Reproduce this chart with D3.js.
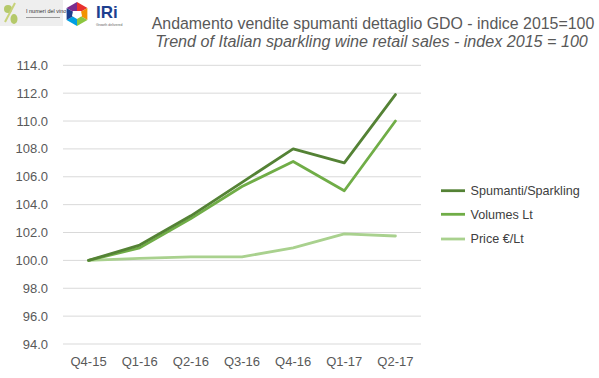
<!DOCTYPE html>
<html><head><meta charset="utf-8">
<script src="https://cdn.jsdelivr.net/npm/d3@7"></script>
<style>body{margin:0;background:#fff}svg{display:block}</style>
</head><body>
<script>
const categories = ["Q4-15","Q1-16","Q2-16","Q3-16","Q4-16","Q1-17","Q2-17"];
const spumanti = [100.0, 101.1, 103.2, 105.6, 108.0, 107.0, 111.9];
const volumes  = [100.0, 100.9, 103.0, 105.3, 107.1, 105.0, 110.0];
const price    = [100.0, 100.15, 100.25, 100.25, 100.9, 101.9, 101.75];
const seriesNames = ["Spumanti/Sparkling","Volumes Lt","Price €/Lt"];
const yTicks = [94,96,98,100,102,104,106,108,110,112,114];
const titleIt = "Andamento vendite spumanti dettaglio GDO - indice 2015=100";
const titleEn = "Trend of Italian sparkling wine retail sales - index 2015 = 100";

const W = 599, H = 378;
const colors = ["#548235","#70ad47","#a9d18e"];
const svg = d3.select("body").append("svg").attr("width",W).attr("height",H);
const font = "'Liberation Sans', Arial, sans-serif";

const x = d3.scaleBand().domain(categories).range([63, 421]);
const y = d3.scaleLinear().domain([94,114]).range([344, 65.3]);

// gridlines
svg.append("g").selectAll("line").data(yTicks).join("line")
  .attr("x1",63).attr("x2",421).attr("y1",d=>y(d)).attr("y2",d=>y(d))
  .attr("stroke","#d9d9d9").attr("stroke-width",1);

// y labels
svg.append("g").selectAll("text").data(yTicks).join("text")
  .attr("x",48).attr("y",d=>y(d)).attr("dy","0.35em").attr("text-anchor","end")
  .attr("font-family",font).attr("font-size",13).attr("fill","#595959")
  .text(d=>d.toFixed(1));

// x labels
svg.append("g").selectAll("text").data(categories).join("text")
  .attr("x",d=>x(d)+x.bandwidth()/2).attr("y",361).attr("dy","0.35em").attr("text-anchor","middle")
  .attr("font-family",font).attr("font-size",13).attr("fill","#595959")
  .text(d=>d);

const data = [spumanti, volumes, price];
const line = d3.line().x((d,i)=>x(categories[i])+x.bandwidth()/2).y(d=>y(d));
[2,1,0].forEach(k=>{
  svg.append("path").datum(data[k]).attr("d",line).attr("fill","none")
    .attr("stroke",colors[k]).attr("stroke-width",2.8).attr("stroke-linejoin","round").attr("stroke-linecap","round");
});

// legend
const legY = [190.7, 214.3, 239];
seriesNames.forEach((n,k)=>{
  svg.append("line").attr("x1",441).attr("x2",465).attr("y1",legY[k]).attr("y2",legY[k])
    .attr("stroke",colors[k]).attr("stroke-width",2.8);
  svg.append("text").attr("x",470.5).attr("y",legY[k]).attr("dy","0.35em")
    .attr("font-family",font).attr("font-size",12.6).attr("fill","#404040").text(n);
});

// titles
function fitText(sel, target){
  const w = sel.node().getComputedTextLength();
  const fs = parseFloat(sel.attr("font-size"));
  sel.attr("font-size", fs*target/w);
}
const t1 = svg.append("text").attr("x",373).attr("y",29).attr("text-anchor","middle")
  .attr("font-family",font).attr("font-size",16).attr("fill","#595959").text(titleIt);
fitText(t1, 443);
const t2 = svg.append("text").attr("x",371.5).attr("y",47).attr("text-anchor","middle")
  .attr("font-family",font).attr("font-size",16).attr("font-style","italic").attr("fill","#595959").text(titleEn);
fitText(t2, 433);

// logos (approximation)
const lg = svg.append("g");
lg.append("rect").attr("x",0).attr("y",0).attr("width",63).attr("height",26).attr("fill","#eeeeee");
lg.append("circle").attr("cx",8).attr("cy",9).attr("r",4).attr("fill","#b5c96a");
lg.append("line").attr("x1",5).attr("y1",22).attr("x2",15).attr("y2",3).attr("stroke","#c8d27a").attr("stroke-width",2);
lg.append("ellipse").attr("cx",14).attr("cy",19).attr("rx",3.5).attr("ry",5).attr("fill","#b5c96a");
lg.append("text").attr("x",26).attr("y",13).attr("font-family",font).attr("font-size",5.5).attr("fill","#333").text("I numeri del vino");
lg.append("rect").attr("x",26).attr("y",17).attr("width",34).attr("height",1).attr("fill","#999");
// IRi hexagon
const hx = 77, hy = 14, hr = 12;
const hexColors = ["#e8312f","#f39200","#8cc63f","#009fe3","#1d3f8f","#7b2d8e"];
for(let i=0;i<6;i++){
  const a0 = (Math.PI/3)*i - Math.PI/2, a1 = a0 + Math.PI/3;
  lg.append("path").attr("d",`M${hx},${hy} L${hx+hr*Math.cos(a0)},${hy+hr*Math.sin(a0)} L${hx+hr*Math.cos(a1)},${hy+hr*Math.sin(a1)} Z`)
    .attr("fill",hexColors[i]);
}
lg.append("path").attr("d",`M${hx-4},${hy-3} L${hx+4},${hy-3} L${hx+5},${hy+2} L${hx},${hy+5} L${hx-5},${hy+2} Z`).attr("fill","#fff");
lg.append("text").attr("x",96).attr("y",18).attr("font-family",font).attr("font-weight","bold").attr("font-size",17).attr("fill","#1d3f8f").text("IRi");
lg.append("text").attr("x",96).attr("y",26).attr("font-family",font).attr("font-size",3.5).attr("fill","#666").text("Growth delivered");
</script>
</body></html>
